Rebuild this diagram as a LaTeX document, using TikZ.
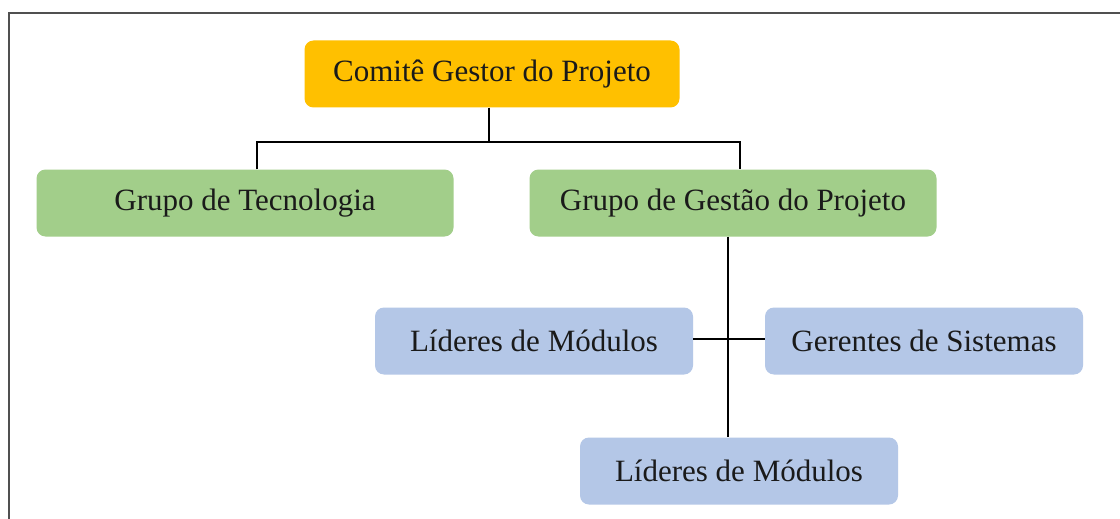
\documentclass[tikz,border=0pt]{standalone}
\usepackage{fontspec}
\setmainfont{Liberation Serif}
\definecolor{orangebox}{HTML}{FFC000}
\definecolor{greenbox}{HTML}{A2CE8A}
\definecolor{bluebox}{HTML}{B4C7E7}
\definecolor{framegray}{HTML}{505050}
\definecolor{txt}{HTML}{1A1A1A}
\begin{document}
\begin{tikzpicture}[x=1pt,y=-1pt,
  box/.style={rounded corners=9pt, inner sep=0pt, text=txt,
    font=\fontsize{31}{36}\selectfont, minimum height=67pt},
  topbox/.style={box, fill=orangebox, minimum width=375pt},
  greenb/.style={box, fill=greenbox, minimum width=410pt},
  blueb/.style={box, fill=bluebox, minimum width=318pt},
  link/.style={draw=black, line width=1.4pt}]
\useasboundingbox (0,0) rectangle (1120,519);
\fill[white] (0,0) rectangle (1120,519);
\draw[framegray, line width=2.2pt] (9,525) -- (9,13) -- (1125,13);
\node[topbox] (comite) at (492,74) {Comitê Gestor do Projeto};
\node[greenb, minimum width=417pt] (tec) at (245,203) {Grupo de Tecnologia};
\node[greenb, minimum width=407pt] (gestao) at (733,203) {Grupo de Gestão do Projeto};
\node[blueb] (lid1) at (534,341) {Líderes de Módulos};
\node[blueb] (ger) at (924,341) {Gerentes de Sistemas};
\node[blueb] (lid2) at (739,471) {Líderes de Módulos};
\coordinate (j) at (489,142);
\draw[link] ([xshift=-3pt]comite.south) -- (j);
\draw[link] ([xshift=12pt]tec.north) |- (j) -| ([xshift=7pt]gestao.north);
\draw[link] ([xshift=-5pt]gestao.south) -- ([xshift=-11pt]lid2.north);
\draw[link] ([yshift=2pt]lid1.east) -- ([yshift=2pt]ger.west);
\end{tikzpicture}
\end{document}
